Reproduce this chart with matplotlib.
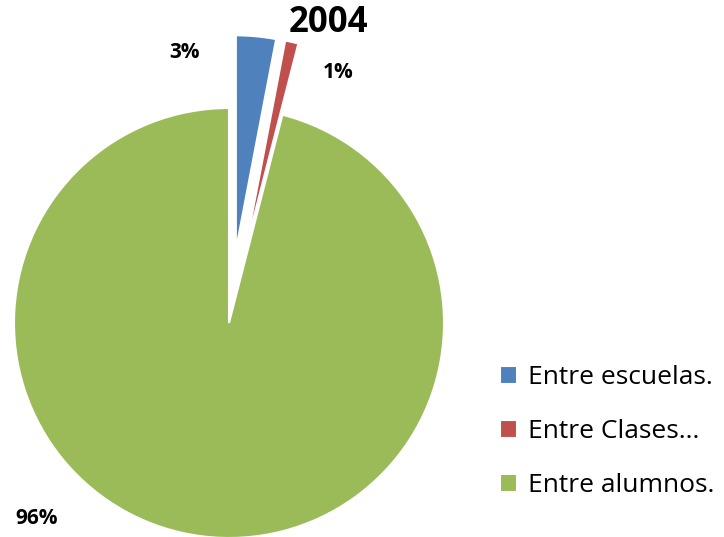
import matplotlib.pyplot as plt
import matplotlib

matplotlib.rcParams['font.family'] = ['Open Sans', 'DejaVu Sans']

# datos del gráfico
categorias = ['Entre escuelas.', 'Entre Clases...', 'Entre alumnos.']
porcentajes = [3, 1, 96]
colores = ['#4F81BD', '#C0504D', '#9BBB59']
titulo = '2004'

fig = plt.figure(figsize=(7.24, 5.37), dpi=100)
ax = fig.add_axes([0, 0, 1, 1])

# explode va en unidades de datos (pixeles aqui)
wedges, _ = ax.pie(porcentajes, colors=colores, startangle=90, counterclock=False,
                   explode=[73, 73, 0], center=(229, 214), radius=215,
                   wedgeprops={'edgecolor': 'white', 'linewidth': 1.5})
ax.set_xlim(0, 724)
ax.set_ylim(0, 537)
ax.set_aspect('equal')
ax.axis('off')

# etiquetas de porcentaje
posiciones = [(184, 485), (338, 465), (37, 19)]
for (x, y), v in zip(posiciones, porcentajes):
    ax.text(x, y, f'{v}%', ha='center', va='center', fontsize=15, fontweight='bold')

ax.text(328, 514, titulo, ha='center', va='center', fontsize=25, fontweight='bold')

ax.legend(wedges, categorias, loc='center left', bbox_to_anchor=(0.676, 0.196),
          frameon=False, fontsize=19, handlelength=0.65, handleheight=0.65,
          handletextpad=0.42, labelspacing=1.09, borderaxespad=0)

fig.savefig('out.png', dpi=100)
